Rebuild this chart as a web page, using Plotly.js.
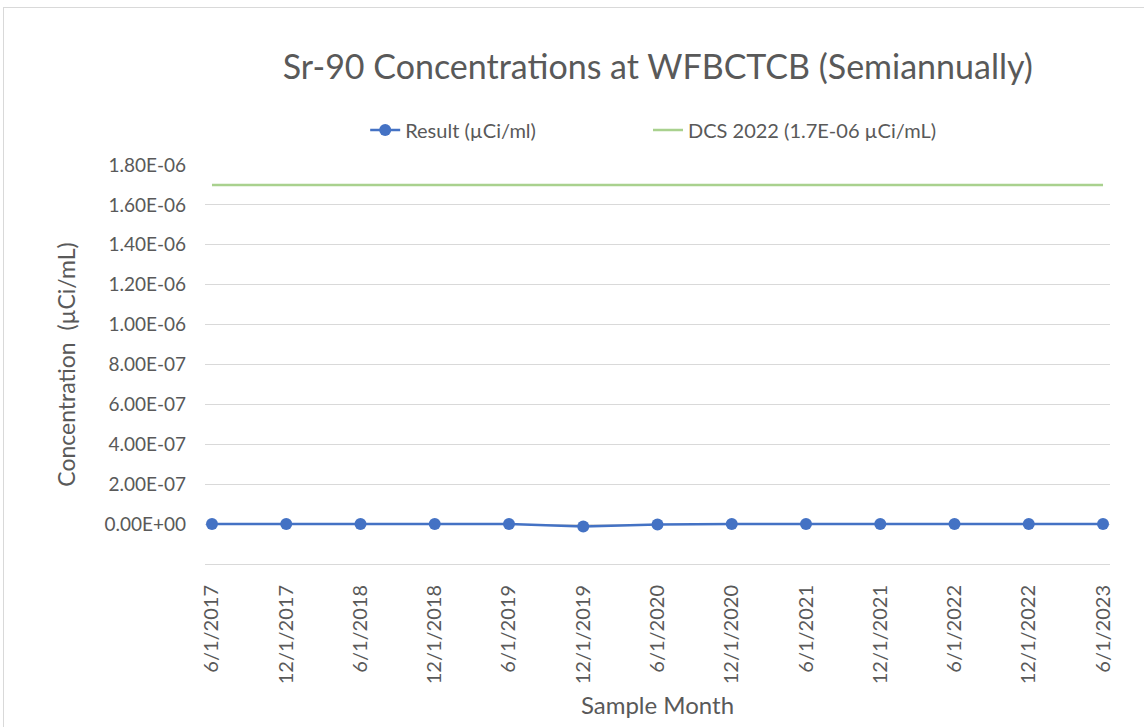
<!DOCTYPE html>
<html><head><meta charset="utf-8">
<script src="https://cdn.plot.ly/plotly-3.0.1.min.js"></script>
<style>body{margin:0;padding:0;background:#fff;overflow:hidden}#frame{position:absolute;left:3px;top:7px;width:1200px;height:800px;border:1px solid #d9d9d9;pointer-events:none}</style>
</head><body>
<div id="chart" style="width:1144px;height:727px;"></div>
<div id="frame"></div>
<script>
const categories = ["6/1/2017","12/1/2017","6/1/2018","12/1/2018","6/1/2019","12/1/2019","6/1/2020","12/1/2020","6/1/2021","12/1/2021","6/1/2022","12/1/2022","6/1/2023"];
const resultValues = [0, 0, 0, 0, 0, -1.2e-8, -2e-9, 0, 0, 0, 0, 0, 0];
const dcsValues = [1.7e-6,1.7e-6,1.7e-6,1.7e-6,1.7e-6,1.7e-6,1.7e-6,1.7e-6,1.7e-6,1.7e-6,1.7e-6,1.7e-6,1.7e-6];
const yTickVals = [0,2e-7,4e-7,6e-7,8e-7,1e-6,1.2e-6,1.4e-6,1.6e-6,1.8e-6];
const yTickText = ["0.00E+00","2.00E-07","4.00E-07","6.00E-07","8.00E-07","1.00E-06","1.20E-06","1.40E-06","1.60E-06","1.80E-06"];

const font = "Lato, 'Open Sans', sans-serif";
const grey = '#595959';
const traces = [
  {x: categories, y: resultValues, type:'scatter', mode:'lines+markers', name:'Result (µCi/ml)',
   line:{color:'#4472C4', width:2.5}, marker:{color:'#4472C4', size:12}, legend:'legend'},
  {x: categories, y: dcsValues, type:'scatter', mode:'lines', name:'DCS 2022 (1.7E-06 µCi/mL)',
   line:{color:'#A9D18E', width:2.5}, legend:'legend2'}
];
const legendFont = {family:font, size:20, color:grey};
const layout = {
  width:1144, height:727,
  margin:{l:205, r:34, t:165, b:163},
  paper_bgcolor:'#fff', plot_bgcolor:'#fff',
  showlegend:true,
  legend:{orientation:'h', x:0.177, xanchor:'left', y:1.088, yanchor:'middle', font:legendFont},
  legend2:{orientation:'h', x:0.4895, xanchor:'left', y:1.088, yanchor:'middle', font:legendFont},
  title:{text:'Sr-90 Concentrations at WFBCTCB (Semiannually)', xref:'container', yref:'container', x:0.575, xanchor:'center', y:0.908, yanchor:'middle',
         font:{family:font, size:34, color:grey}},
  xaxis:{type:'category', range:[-0.094, 12.094], showgrid:false, zeroline:false, automargin:false,
         showline:true, linecolor:'#d9d9d9', linewidth:1,
         tickangle:-90, ticks:'', ticklabelstandoff:12, tickfont:{family:font, size:20, color:grey},
         title:{text:'Sample Month', font:{family:font, size:24, color:grey}, standoff:13}},
  yaxis:{range:[-2e-7, 1.8e-6], tickvals:yTickVals, ticktext:yTickText, showgrid:true, gridcolor:'#d9d9d9',
         zeroline:false, ticks:'', automargin:false, ticklabelstandoff:18, tickfont:{family:font, size:19, color:grey},
         title:{text:'Concentration  (µCi/mL)', font:{family:font, size:23, color:grey}, standoff:22}}
};
Plotly.newPlot('chart', traces, layout, {displayModeBar:false, staticPlot:true});
</script>
</body></html>
